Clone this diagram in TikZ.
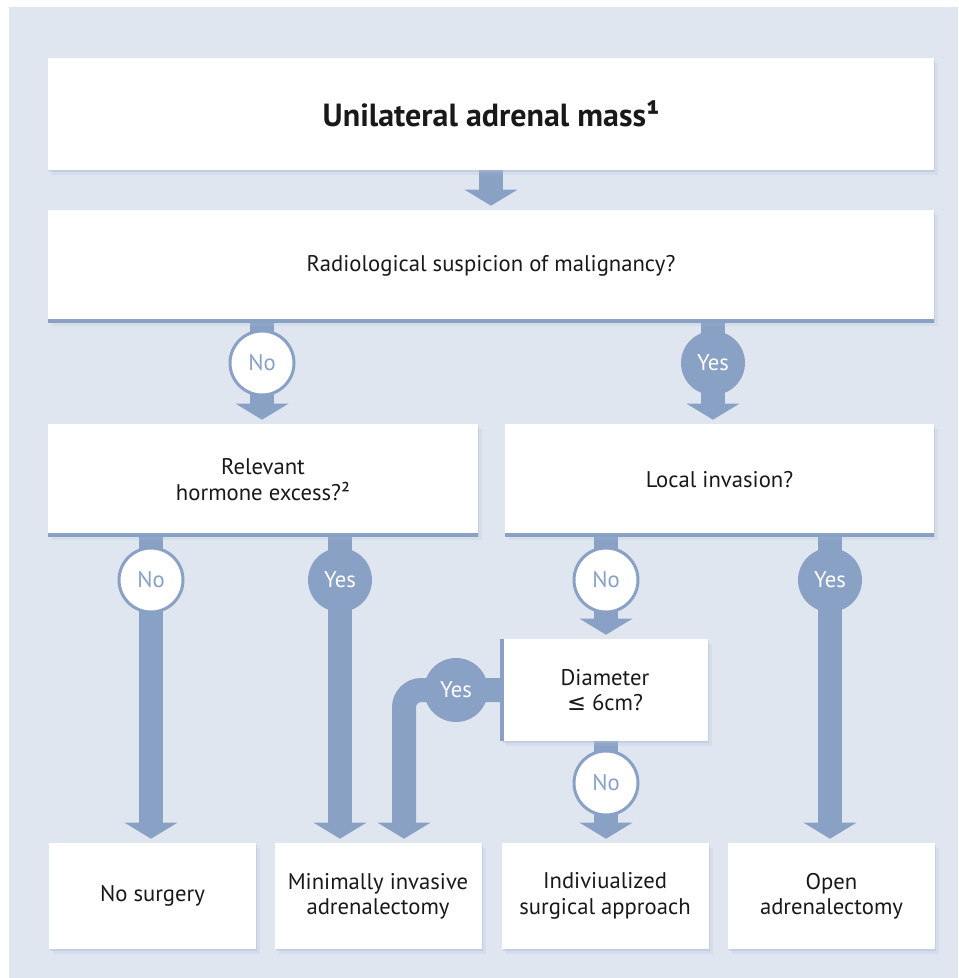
\documentclass[tikz,border=0pt]{standalone}
\usepackage{fontspec}
\setmainfont{PT Sans}
\newfontfamily\symfont{DejaVu Sans}
\usetikzlibrary{arrows.meta,shadows}
\definecolor{flowblue}{RGB}{138,161,198}
\definecolor{panel}{RGB}{224,230,240}
\definecolor{shade}{RGB}{172,188,214}
\pgfdeclarelayer{back}
\pgfdeclarelayer{links}
\pgfsetlayers{back,links,main}

\begin{document}
\begin{tikzpicture}[x=0.75pt,y=-0.75pt,
  box/.style n args={2}{rectangle, fill=white, minimum width=#1, minimum height=#2,
    inner sep=0pt, align=center, text=black!90, font=\fontsize{17}{19}\selectfont,
    drop shadow={shadow xshift=1pt, shadow yshift=-1.5pt, fill=shade, opacity=.45},
    drop shadow={shadow xshift=3pt, shadow yshift=-3.5pt, fill=shade, opacity=.2}},
  answer/.style={circle, minimum size=48pt, inner sep=0pt, font=\fontsize{17}{19}\selectfont},
  nocirc/.style={answer, fill=white, draw=flowblue, line width=2.25pt, text=flowblue},
  yescirc/.style={answer, fill=flowblue, text=white},
  flow/.style={draw=flowblue, line width=18pt, -{Triangle[width=39pt,length=12pt]}, shorten >=3pt},
  rim/.style={draw=flowblue, line width=3pt}]

  \useasboundingbox (0,0) rectangle (958,978);
  \begin{pgfonlayer}{back}
    \fill[panel] (9,7) rectangle (958,978);
  \end{pgfonlayer}

  % questions
  \node[box={664.5pt}{84pt}, font=\fontsize{24}{28}\selectfont\bfseries] (mass) at (491,114) {Unilateral adrenal mass¹};
  \node[box={664.5pt}{83.25pt}] (susp) at (491,265.5) {Radiological suspicion of malignancy?};
  \node[box={322.5pt}{83.25pt}] (horm) at (263,479.5) {Relevant\\hormone excess?²};
  \node[box={321.75pt}{83.25pt}] (inva) at (719.5,479.5) {Local invasion?};
  \node[box={154.5pt}{76.5pt}] (diam) at (605,690) {Diameter\\{\symfont ≤} 6cm?};

  % outcomes
  \foreach \x/\name/\txt in {152.5/nosurg/No surgery,
                             378/mini/Minimally invasive\\adrenalectomy,
                             605/indiv/Indiviualized\\surgical approach,
                             831.5/open/Open\\adrenalectomy}
    \node[box={155.25pt}{79.5pt}] (\name) at (\x,896) {\txt};

  \foreach \n in {susp,horm,inva}
    \draw[rim] (\n.south west) -- (\n.south east);
  \draw[rim] (diam.north west) -- (diam.south west);

  % answers
  \node[nocirc] (no1) at (262,363) {No};
  \node[yescirc] (yes1) at (713,363) {Yes};
  \node[nocirc] (no2) at (151,580) {No};
  \node[yescirc] (yes2) at (340,580) {Yes};
  \node[nocirc] (no3) at (606,580) {No};
  \node[yescirc] (yes3) at (830,580) {Yes};
  \node[yescirc] (yes4) at (456,690) {Yes};
  \node[nocirc] (no4) at (606,783) {No};
  \coordinate (bend) at (404,690);

  \begin{pgfonlayer}{links}
    \draw[flow] (mass.south) -- (susp.north);
    \draw[flow] (susp.south -| no1) -- (horm.north -| no1);
    \draw[flow] (susp.south -| yes1) -- (inva.north -| yes1);
    \draw[flow] (horm.south -| no2) -- (nosurg.north -| no2);
    \draw[flow] (horm.south -| yes2) -- (mini.north -| yes2);
    \draw[flow] (inva.south -| no3) -- (diam.north -| no3);
    \draw[flow] (inva.south -| yes3) -- (open.north -| yes3);
    \draw[flow] (diam.south -| no4) -- (indiv.north -| no4);
    \draw[flow, rounded corners=13pt] (diam.west) -- (bend) -- (bend |- mini.north);
  \end{pgfonlayer}
\end{tikzpicture}
\end{document}
